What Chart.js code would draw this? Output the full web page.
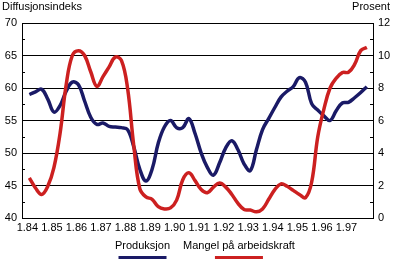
<!DOCTYPE html>
<html>
<head>
<meta charset="utf-8">
<script src="https://cdn.jsdelivr.net/npm/chart.js@4.4.0/dist/chart.umd.min.js"></script>
<style>
  html, body { margin: 0; padding: 0; background: #fff; }
  #wrap { width: 400px; height: 266px; position: relative; }
</style>
</head>
<body>
<div id="wrap"><canvas id="chart"></canvas></div>
<script>
// Tick labels, one per year (first quarter)
const yearLabels = ['1.84', '1.85', '1.86', '1.87', '1.88', '1.89', '1.90',
                    '1.91', '1.92', '1.93', '1.94', '1.95', '1.96', '1.97'];

// Quarterly values, 1984Q1 - 1997Q4
// Produksjon, diffusion index (left axis)
const produksjon = [
  59.0, 59.4, 59.8, 58.3, 56.3, 57.3, 59.5, 60.9, 60.5, 58.0,
  55.5, 54.4, 54.6, 54.1, 54.0, 53.9, 53.6, 51.0, 47.5, 45.7,
  47.5, 51.5, 54.0, 55.0, 53.9, 53.9, 55.3, 53.0, 50.0, 47.8,
  46.6, 48.5, 50.8, 51.9, 50.5, 48.3, 47.3, 50.5, 53.6, 55.3,
  57.0, 58.6, 59.5, 60.2, 61.6, 60.9, 57.6, 56.6, 55.7, 55.0,
  56.5, 57.7, 57.8, 58.5, 59.3, 60.2
];

// Mangel på arbeidskraft, percent (right axis)
const mangel = [
  2.47, 1.85, 1.45, 1.95, 3.1, 5.2, 8.2, 10.0, 10.3, 10.0,
  9.0, 8.1, 8.7, 9.3, 9.9, 9.7, 8.0, 4.5, 1.8, 1.3,
  1.15, 0.7, 0.56, 0.62, 1.1, 2.35, 2.78, 2.3, 1.75, 1.55,
  1.9, 2.15, 1.9, 1.45, 0.9, 0.52, 0.49, 0.38, 0.56, 1.15,
  1.75, 2.1, 1.95, 1.7, 1.45, 1.25, 2.2, 5.0, 6.7, 8.0,
  8.6, 8.95, 8.97, 9.45, 10.3, 10.5
];

const seriesNames = ['Produksjon', 'Mangel på arbeidskraft'];
const seriesColors = ['#1a1a66', '#cc2020'];

const FONT = { family: '"Liberation Sans", Arial, sans-serif', size: 11 };

// titles, inward minor ticks and the underlined legend
const decorPlugin = {
    id: 'decor',
    afterDraw(chart) {
        const ctx = chart.ctx;
        const yL = chart.scales.y, yR = chart.scales.y1;
        const area = chart.chartArea;
        ctx.save();
        ctx.strokeStyle = '#000';
        ctx.lineWidth = 1;
        ctx.beginPath();
        for (let v = 42.5; v < 70; v += 5) {
            const py = Math.round(yL.getPixelForValue(v)) + 0.5;
            ctx.moveTo(area.left, py); ctx.lineTo(area.left + 3, py);
        }
        for (let v = 1; v < 12; v += 2) {
            const py = Math.round(yR.getPixelForValue(v)) + 0.5;
            ctx.moveTo(area.right - 3, py); ctx.lineTo(area.right, py);
        }
        ctx.stroke();

        ctx.fillStyle = '#000';
        ctx.font = `${FONT.size}px ${FONT.family}`;
        ctx.textBaseline = 'middle';
        ctx.textAlign = 'left';
        ctx.fillText('Diffusjonsindeks', 2, 7);
        ctx.textAlign = 'right';
        ctx.fillText('Prosent', 390, 7);

        // legend: label with a coloured bar under it
        const lx = [115, 183];
        ctx.textAlign = 'left';
        seriesNames.forEach((name, i) => {
            ctx.fillStyle = '#000';
            ctx.fillText(name, lx[i], 246);
            const w = ctx.measureText(name).width;
            const cx = lx[i] + w / 2;
            ctx.strokeStyle = seriesColors[i];
            ctx.lineWidth = 3;
            ctx.beginPath();
            ctx.moveTo(cx - 24, 257.5); ctx.lineTo(cx + 24, 257.5);
            ctx.stroke();
        });
        ctx.restore();
    }
};

new Chart(document.getElementById('chart').getContext('2d'), {
    type: 'line',
    data: {
        datasets: [
            {
                label: seriesNames[0],
                data: produksjon.map((v, i) => ({ x: i, y: v })),
                borderColor: seriesColors[0],
                borderWidth: 3.5,
                pointRadius: 0,
                tension: 0.4,
                yAxisID: 'y',
                order: 1
            },
            {
                label: seriesNames[1],
                data: mangel.map((v, i) => ({ x: i, y: v })),
                borderColor: seriesColors[1],
                borderWidth: 3.5,
                pointRadius: 0,
                tension: 0.4,
                yAxisID: 'y1',
                order: 0
            }
        ]
    },
    options: {
        responsive: true,
        maintainAspectRatio: false,
        animation: false,
        devicePixelRatio: 1,
        layout: { padding: { top: 23, left: 0, right: 0, bottom: 0 } },
        plugins: { legend: { display: false }, tooltip: { enabled: false } },
        scales: {
            x: {
                type: 'linear',
                min: -1.2,
                max: 56.0,
                afterBuildTicks(scale) {
                    scale.ticks = yearLabels.map((_, k) => ({ value: k * 4 }));
                },
                afterFit(scale) { scale.height = 48; },
                grid: { display: false, drawTicks: false },
                border: { display: false },
                ticks: {
                    color: '#000',
                    font: FONT,
                    padding: 3,
                    maxRotation: 0,
                    autoSkip: false,
                    labelOffset: -2,
                    callback: (v) => yearLabels[Math.round(v / 4)]
                }
            },
            y: {
                position: 'left',
                min: 40,
                max: 70,
                afterFit(scale) { scale.width = 22; },
                grid: { color: '#000', lineWidth: 1, drawTicks: false },
                border: { display: true, color: '#000' },
                ticks: { stepSize: 5, color: '#000', font: FONT, padding: 5 }
            },
            y1: {
                position: 'right',
                min: 0,
                max: 12,
                afterFit(scale) { scale.width = 27; },
                grid: { drawOnChartArea: false, drawTicks: false },
                border: { display: true, color: '#000' },
                ticks: { stepSize: 2, color: '#000', font: FONT, padding: 5 }
            }
        }
    },
    plugins: [decorPlugin]
});
</script>
</body>
</html>
